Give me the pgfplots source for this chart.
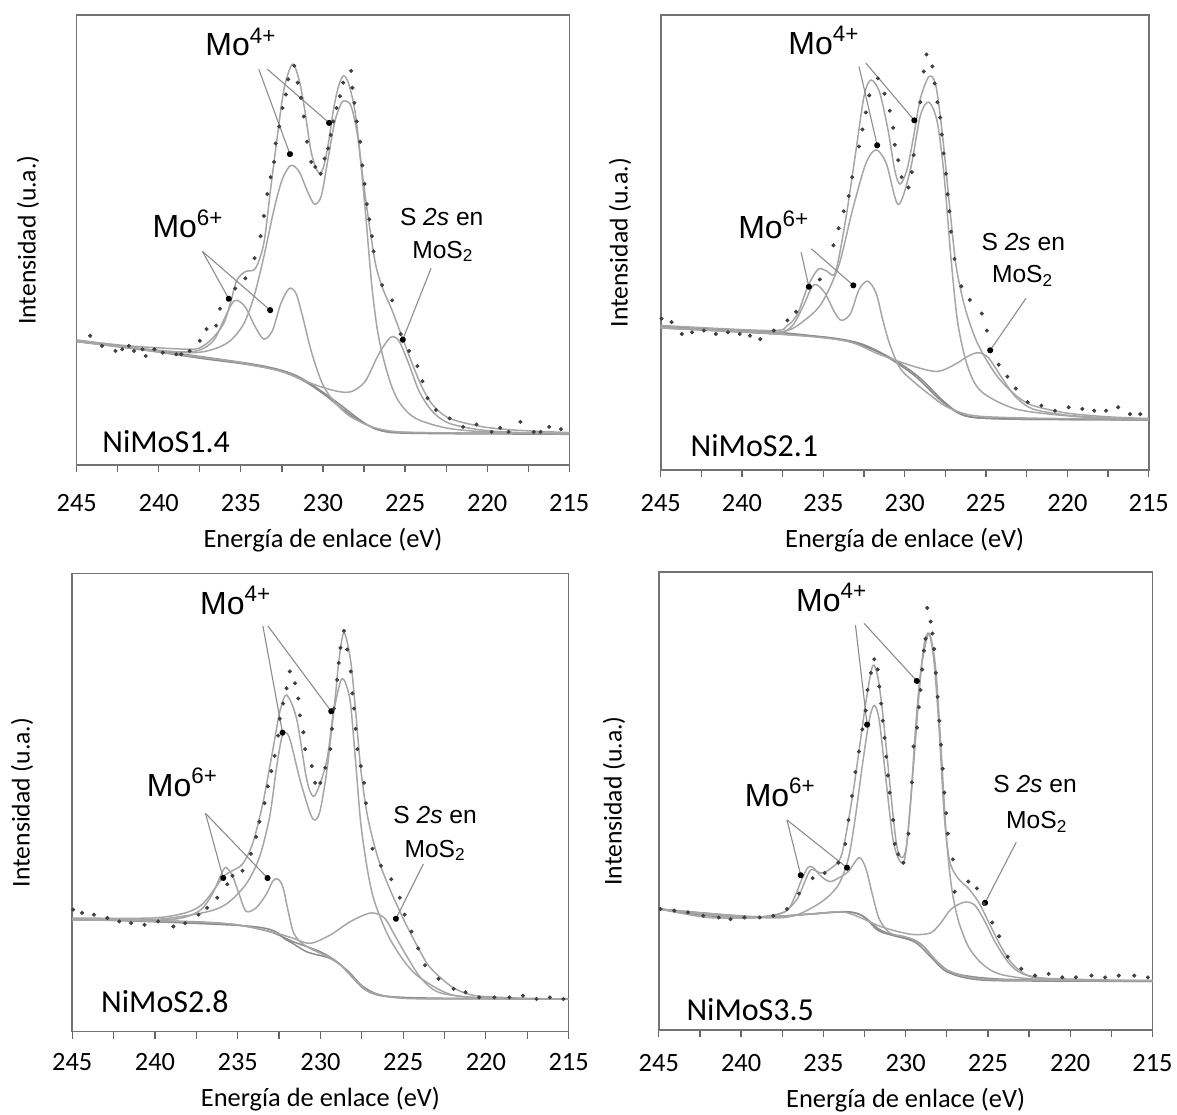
\documentclass[border=0pt]{standalone}
\usepackage{fontspec}
\setmainfont{Carlito}
\newfontfamily\arial{Liberation Sans}
\usepackage{pgfplots}
\pgfplotsset{compat=1.18}
\usetikzlibrary{arrows.meta}

\pgfplotsset{
  xps/.style={
    scale only axis, anchor=south west,
    x dir=reverse, xmin=215, xmax=245, ymin=0,
    xtick={215,220,...,245}, minor x tick num=1,
    ytick=\empty,
    tick align=outside, xtick pos=bottom,
    major tick length=3.5pt, minor tick length=3.5pt,
    every tick/.style={black!60, line width=0.6pt},
    axis line style={black!55, line width=0.8pt},
    /pgf/number format/assume math mode=true,
    xticklabel style={font=\fontsize{13.2}{14}\selectfont, anchor=center},
    xlabel={Energía de enlace (eV)},
    ylabel={Intensidad (u.a.)},
  },
  comp/.style={gray!70, line width=0.75pt, smooth, no markers},
  base/.style={black!45, line width=0.75pt, smooth, no markers},
  dat/.style={only marks, mark=*, mark size=0.8pt, black!75},
}
\tikzset{
  ann/.style={black!45, line width=0.55pt, -{Circle[length=3pt, black]}},
  big/.style={anchor=base, inner sep=0pt, font=\arial\fontsize{16}{16}\selectfont},
  small/.style={anchor=base, inner sep=0pt, font=\arial\fontsize{12.3}{13}\selectfont},
  samp/.style={anchor=base west, inner sep=0pt, font=\fontsize{16}{16}\selectfont},
  xl/.style={font=\fontsize{13.2}{14}\selectfont, anchor=center},
  yl/.style={font=\fontsize{12.8}{14}\selectfont, anchor=center},
}

\begin{document}
\begin{tikzpicture}
\path[use as bounding box] (0,0) rectangle (588.5pt,557pt);

% ---------------- NiMoS1.4 ----------------
\begin{axis}[xps, at={(38.35pt,324.5pt)}, width=246.3pt, height=224.9pt, ymax=133.3,
  xticklabel style={yshift=-15.75pt},
  x label style={xl, at={(axis description cs:0.5,-0.168)}},
  y label style={yl, at={(axis description cs:-0.0989,0.5)}}]
\addplot[base] coordinates {(245,36.6) (241.82,34.8) (237.71,31.8) (234.62,29.8) (232.57,27.8) (231.13,24.8) (229.90,20.8) (228.87,16.8) (227.84,13.3) (226.81,10.8) (225.79,9.6) (223,9.3) (219,9.2) (215,9.1)};
\addplot[base] coordinates {(245,37.0) (237.71,32.3) (233.60,29.3) (231.54,26.3) (229.49,19.8) (227.43,12.3) (226.20,10.0) (223,9.5) (219,9.4) (215,9.3)};
\addplot[comp] coordinates {(245,36.6) (239.76,33.3) (235.65,30.8) (232.57,27.8) (230.51,23.8) (229.08,21.8) (228.25,21.8) (227.43,24.8) (226.61,32.8) (225.89,37.8) (225.38,36.8) (224.76,29.8) (224.14,21.8) (223.32,15.8) (222.29,12.3) (220.24,10.3) (217.5,9.5) (215,9.3)};
\addplot[comp] coordinates {(245,36.6) (239.76,33.8) (237.71,33.8) (236.68,36.8) (236.06,42.8) (235.55,47.8) (235.24,48.8) (234.73,46.8) (234.11,40.8) (233.60,37.3) (233.08,39.8) (232.57,47.8) (232.06,52.3) (231.64,50.8) (231.23,43.8) (230.72,33.8) (230.10,24.8) (229.49,19.8) (228.46,14.8) (227.02,11.3) (225.38,9.8) (222,9.5) (218,9.4) (215,9.3)};
\addplot[comp] coordinates {(245,36.6) (241.82,34.8) (238.12,33.3) (236.68,34.3) (235.65,36.8) (234.83,41.8) (234.21,49.8) (233.60,61.8) (232.98,75.8) (232.47,84.8) (231.95,88.8) (231.44,86.8) (230.92,80.8) (230.51,77.3) (230.10,79.8) (229.69,90.8) (229.28,101.8) (228.87,107.3) (228.56,107.8) (228.25,105.8) (227.84,95.8) (227.43,75.8) (227.02,52.8) (226.61,37.8) (225.99,25.8) (225.38,18.8) (224.35,13.8) (222.29,10.8) (219.21,9.6) (215,9.3)};
\addplot[comp] coordinates {(245,37.0) (241.82,35.3) (238.12,34.3) (237.30,35.3) (236.68,37.8) (236.06,41.8) (235.65,47.8) (235.24,54.8) (234.73,57.3) (234.11,58.3) (233.60,65.8) (233.19,81.8) (232.77,97.8) (232.36,111.8) (231.85,118.8) (231.44,113.8) (231.13,105.8) (230.72,92.8) (230.31,86.8) (230.00,87.8) (229.69,94.8) (229.38,104.8) (229.08,111.8) (228.77,115.3) (228.46,113.3) (228.05,104.8) (227.64,87.8) (227.23,72.8) (226.81,59.8) (226.40,52.8) (225.79,45.8) (225.17,37.8) (224.55,29.8) (223.94,22.8) (223.32,17.8) (222.29,13.8) (220.24,11.3) (218.18,10.3) (215,9.6)};
\addplot[dat] coordinates {(244.18,38.3) (243.46,35.3) (242.64,33.8) (242.23,34.3) (241.82,35.3) (241.51,33.8) (240.99,34.3) (240.79,32.3) (240.27,34.3) (239.76,33.3) (238.94,32.8) (238.63,32.8) (238.12,33.8) (237.50,36.8) (237.09,40.3) (236.51,41.3) (236.27,46.3) (235.34,52.3) (234.73,55.3) (234.17,61.3) (233.80,67.8) (233.60,73.8) (233.39,80.3) (233.19,85.3) (232.98,89.8) (232.88,95.3) (232.67,100.3) (232.47,105.8) (232.26,109.8) (232.12,114.3) (231.75,118.3) (231.54,113.3) (231.34,108.8) (231.17,103.3) (230.97,95.8) (230.72,89.8) (230.47,88.3) (230.14,86.3) (229.90,90.8) (229.69,93.8) (229.53,97.8) (229.38,101.8) (229.18,105.8) (228.97,109.3) (228.77,113.3) (228.29,116.8) (228.21,111.8) (228.09,107.3) (227.95,101.8) (227.74,95.8) (227.60,88.8) (227.47,83.3) (227.33,77.3) (227.18,72.8) (227.02,67.8) (226.92,63.3) (226.40,53.3) (225.79,48.8) (225.27,38.8) (224.76,33.8) (224.25,29.3) (223.94,24.8) (223.63,19.8) (223.12,16.3) (222.29,13.8) (221.47,11.3) (220.65,12.0) (219.73,9.8) (219.21,11.0) (218.70,9.8) (217.98,12.8) (217.16,9.8) (216.75,9.8) (216.23,11.3) (215.51,10.6)};
\draw[ann] (axis cs:233.91,117.3) -- (axis cs:231.95,91.3);
\draw[ann] (axis cs:233.39,117.3) -- (axis cs:229.49,100.8);
\draw[ann] (axis cs:237.34,63.3) -- (axis cs:235.65,48.5);
\draw[ann] (axis cs:237.34,63.3) -- (axis cs:233.08,45.3);
\draw[ann] (axis cs:223.42,58.3) -- (axis cs:225.21,36.3);
\node[big] at (axis cs:235.0,121.3) {Mo\textsuperscript{4+}};
\node[big] at (axis cs:238.22,67.3) {Mo\textsuperscript{6+}};
\node[small] at (axis cs:222.77,71.0) {S \textit{2s} en};
\node[small] at (axis cs:222.70,61.3) {MoS\textsubscript{2}};
\node[samp] at (axis cs:243.46,3.8) {NiMoS1.4};
\end{axis}

% ---------------- NiMoS2.1 ----------------
\begin{axis}[xps, at={(330.35pt,322pt)}, width=244pt, height=227.35pt, ymax=133.4,
  xticklabel style={yshift=-13pt},
  x label style={xl, at={(axis description cs:0.5,-0.154)}},
  y label style={yl, at={(axis description cs:-0.0834,0.5)}}]
\addplot[base] coordinates {(245,41.7) (237.84,39.9) (234.69,38.9) (232.60,36.9) (230.50,31.9) (229.04,26.9) (227.78,20.9) (226.73,16.9) (225.68,15.4) (223,14.9) (219,14.8) (215,14.7)};
\addplot[base] coordinates {(245,42.1) (237.84,40.4) (233.65,37.9) (231.55,34.4) (229.45,27.9) (227.78,20.4) (226.31,15.9) (224,15.0) (220,14.8) (215,14.7)};
\addplot[comp] coordinates {(245,41.7) (237.84,39.9) (233.65,37.9) (231.55,33.9) (229.45,30.4) (227.99,28.9) (226.94,30.9) (226.10,33.4) (225.47,34.4) (224.85,32.9) (224.01,26.9) (223.17,21.4) (222.12,17.9) (220.03,16.1) (217.5,15.3) (215,14.9)};
\addplot[comp] coordinates {(245,41.7) (238.26,40.4) (237.00,41.9) (236.26,47.9) (235.74,53.4) (235.43,54.4) (234.90,51.9) (234.27,45.9) (233.86,43.9) (233.33,45.9) (232.81,52.9) (232.28,55.4) (231.76,51.9) (231.34,43.9) (230.92,36.9) (230.29,29.9) (229.45,25.9) (228.41,21.9) (227.36,18.4) (225.68,15.9) (222,15.2) (218,15.0) (215,14.9)};
\addplot[comp] coordinates {(245,41.9) (238.88,40.4) (237.21,40.9) (236.16,43.9) (235.11,48.9) (234.06,59.9) (233.23,75.9) (232.39,89.9) (231.76,93.9) (231.13,89.9) (230.40,77.9) (229.66,87.9) (229.04,103.9) (228.51,107.9) (227.99,101.9) (227.57,85.9) (227.15,61.9) (226.73,42.9) (226.10,29.9) (225.26,22.9) (223.17,17.9) (220.03,15.9) (217.5,15.2) (215,14.9)};
\addplot[comp] coordinates {(245,42.4) (238.26,40.9) (237.21,42.4) (236.58,45.9) (235.95,53.9) (235.32,58.9) (234.80,58.4) (234.27,57.9) (233.65,72.9) (233.02,92.9) (232.49,109.9) (232.07,114.4) (231.55,110.9) (231.03,99.9) (230.61,87.9) (230.29,83.9) (229.87,87.9) (229.45,97.9) (229.04,108.9) (228.51,115.4) (228.09,112.9) (227.67,97.9) (227.25,77.9) (226.84,59.9) (226.31,47.9) (225.68,38.9) (225.05,32.9) (224.22,26.9) (223.17,21.9) (222.12,18.9) (220.03,16.7) (217.5,15.6) (215,15.1)};
\addplot[dat] coordinates {(244.95,44.4) (244.33,43.4) (243.70,39.9) (243.07,40.4) (242.34,40.9) (241.61,39.9) (240.87,40.4) (240.14,39.9) (239.51,39.4) (238.88,38.4) (238.05,40.9) (237.21,43.9) (236.68,46.4) (235.22,55.9) (234.38,65.9) (234.06,70.9) (233.75,75.9) (233.44,80.4) (233.23,85.9) (232.81,94.9) (232.60,99.9) (232.39,104.9) (232.18,109.9) (231.65,114.9) (231.24,110.4) (230.92,105.4) (230.71,100.4) (230.61,95.4) (230.40,90.9) (230.19,85.9) (229.77,82.9) (229.56,87.4) (229.45,92.4) (229.04,107.9) (228.83,116.9) (228.66,121.9) (228.30,118.4) (228.16,113.4) (227.99,107.9) (227.82,103.4) (227.72,98.4) (227.61,92.9) (227.46,86.9) (227.36,80.9) (227.25,75.9) (227.15,69.9) (226.94,61.9) (226.52,53.9) (226.00,49.9) (225.26,45.9) (224.95,40.9) (224.22,30.9) (223.69,27.4) (223.17,23.9) (222.44,19.9) (221.60,18.9) (220.76,17.4) (219.92,18.4) (219.08,17.9) (218.35,17.4) (217.62,17.4) (216.88,18.4) (216.15,16.4) (215.52,16.4)};
\draw[ann] (axis cs:232.81,118.4) -- (axis cs:231.65,94.4);
\draw[ann] (axis cs:232.39,119.4) -- (axis cs:229.29,101.9);
\draw[ann] (axis cs:236.37,63.9) -- (axis cs:235.85,52.9);
\draw[ann] (axis cs:235.74,64.9) -- (axis cs:233.02,53.6);
\draw[ann] (axis cs:222.54,50.4) -- (axis cs:224.85,34.4);
\node[big] at (axis cs:234.97,121.9) {Mo\textsuperscript{4+}};
\node[big] at (axis cs:238.05,67.9) {Mo\textsuperscript{6+}};
\node[small] at (axis cs:222.71,64.4) {S \textit{2s} en};
\node[small] at (axis cs:222.75,54.9) {MoS\textsubscript{2}};
\node[samp] at (axis cs:243.18,3.9) {NiMoS2.1};
\end{axis}

% ---------------- NiMoS2.8 ----------------
\begin{axis}[xps, at={(36.15pt,41.25pt)}, width=248.15pt, height=229pt, ymax=135.6,
  xticklabel style={yshift=-11.9pt},
  x label style={xl, at={(axis description cs:0.5,-0.148)}},
  y label style={yl, at={(axis description cs:-0.1013,0.5)}}]
\addplot[base] coordinates {(245,33.1) (238.18,32.6) (235.12,31.6) (233.07,29.6) (231.65,26.6) (230.01,23.6) (228.99,20.6) (228.17,16.6) (227.36,12.6) (226.34,10.6) (223.89,9.8) (219,9.7) (215,9.6)};
\addplot[base] coordinates {(245,33.3) (234.10,31.1) (232.05,27.1) (230.83,23.6) (229.40,21.6) (228.38,18.1) (227.36,13.1) (225.93,10.4) (222,9.8) (218,9.7) (215,9.6)};
\addplot[comp] coordinates {(245,33.1) (236.14,32.1) (233.07,29.6) (231.65,27.6) (230.62,26.1) (229.40,28.6) (228.17,32.6) (226.95,35.1) (226.13,33.6) (225.52,28.6) (224.70,21.6) (223.89,15.6) (222.86,11.6) (220.82,10.1) (218,9.7) (215,9.6)};
\addplot[comp] coordinates {(245,33.1) (239.20,33.1) (237.36,35.6) (236.55,40.6) (236.04,46.1) (235.73,48.6) (235.32,46.1) (234.91,40.6) (234.50,35.6) (233.89,36.6) (233.28,40.6) (232.87,44.6) (232.56,45.1) (232.26,42.6) (231.95,35.6) (231.65,29.6) (231.24,26.6) (230.62,24.6) (228.99,20.6) (227.97,15.6) (226.95,11.6) (224.91,9.8) (220,9.7) (215,9.6)};
\addplot[comp] coordinates {(245,33.1) (240.22,33.1) (237.16,35.1) (235.73,37.6) (234.50,43.6) (233.69,51.6) (233.07,63.6) (232.67,77.6) (232.36,86.6) (232.16,88.6) (231.85,86.6) (231.24,74.6) (230.62,64.6) (230.32,62.6) (230.01,65.6) (229.60,77.6) (229.19,94.6) (228.79,103.6) (228.58,104.1) (228.38,101.6) (228.17,96.6) (227.87,79.6) (227.56,61.6) (227.15,47.6) (226.74,38.6) (225.93,28.6) (224.91,20.6) (223.89,15.6) (221.84,10.6) (218,9.8) (215,9.6)};
\addplot[comp] coordinates {(245,33.6) (240.22,33.6) (238.18,35.1) (237.16,37.6) (236.34,42.6) (235.83,46.1) (235.32,47.6) (234.71,49.6) (234.10,55.6) (233.48,67.6) (232.87,83.6) (232.46,94.6) (232.05,99.6) (231.44,92.6) (230.83,74.6) (230.42,69.6) (230.01,73.6) (229.60,80.6) (229.30,91.6) (229.09,99.6) (228.89,109.6) (228.58,118.1) (228.17,109.6) (227.87,94.6) (227.56,77.6) (227.15,63.6) (226.54,51.6) (225.93,43.6) (225.11,34.6) (224.29,26.6) (223.48,19.6) (222.66,15.6) (221.84,12.6) (220.62,10.6) (218,9.9) (215,9.6)};
\addplot[dat] coordinates {(244.95,36.1) (244.41,35.1) (243.69,34.6) (242.88,33.6) (242.16,32.6) (241.45,32.1) (240.63,31.6) (239.81,32.6) (238.89,31.1) (238.18,32.1) (237.36,34.6) (236.85,36.6) (236.24,39.6) (235.63,43.6) (235.32,46.1) (234.71,47.6) (234.20,52.6) (233.89,57.6) (233.69,62.1) (233.38,67.6) (233.18,72.6) (232.97,77.1) (232.77,81.6) (232.56,87.6) (232.46,92.6) (232.26,97.1) (232.05,101.6) (231.85,106.6) (231.54,103.1) (231.34,98.6) (231.24,93.6) (231.03,88.6) (230.93,83.6) (230.52,78.6) (230.32,73.6) (230.01,73.6) (229.71,78.1) (229.40,83.6) (229.30,89.6) (229.19,95.6) (228.99,104.1) (228.89,109.1) (228.79,113.6) (228.58,118.6) (228.38,113.1) (228.17,106.6) (228.07,100.1) (227.97,95.6) (227.87,89.6) (227.77,83.6) (227.56,78.6) (227.36,73.6) (227.25,67.6) (226.85,54.1) (226.34,49.1) (225.72,45.1) (225.21,39.6) (224.91,34.6) (224.50,29.6) (224.09,24.6) (223.68,19.6) (222.86,15.6) (221.95,12.6) (221.23,11.6) (220.41,10.1) (219.49,10.1) (218.58,10.1) (217.76,10.6) (216.94,9.6) (216.13,10.1) (215.31,9.6)};
\draw[ann] (axis cs:233.48,120.1) -- (axis cs:232.26,87.6);
\draw[ann] (axis cs:233.18,120.1) -- (axis cs:229.24,94.1);
\draw[ann] (axis cs:236.95,64.6) -- (axis cs:235.83,44.6);
\draw[ann] (axis cs:236.95,64.6) -- (axis cs:233.07,44.8);
\draw[ann] (axis cs:223.78,49.6) -- (axis cs:225.52,32.6);
\node[big] at (axis cs:235.12,123.6) {Mo\textsuperscript{4+}};
\node[big] at (axis cs:238.34,69.6) {Mo\textsuperscript{6+}};
\node[small] at (axis cs:223.07,61.6) {S \textit{2s} en};
\node[small] at (axis cs:223.07,51.6) {MoS\textsubscript{2}};
\node[samp] at (axis cs:243.28,5.6) {NiMoS2.8};
\end{axis}

% ---------------- NiMoS3.5 ----------------
\begin{axis}[xps, at={(329.4pt,42pt)}, width=246.85pt, height=229pt, ymax=133.9,
  xticklabel style={yshift=-13.25pt},
  x label style={xl, at={(axis description cs:0.5,-0.154)}},
  y label style={yl, at={(axis description cs:-0.0907,0.5)}}]
\addplot[base] coordinates {(245,35.4) (241.99,33.4) (238.87,32.9) (235.75,33.9) (233.67,34.6) (232.63,33.4) (231.60,29.4) (230.56,27.4) (229.52,26.4) (228.89,24.4) (228.27,20.9) (227.44,17.4) (226.40,15.9) (224.32,14.9) (220,14.4) (215,14.2)};
\addplot[base] coordinates {(245,35.4) (238.87,33.1) (233.26,34.4) (231.60,28.9) (229.52,25.9) (228.48,21.4) (227.44,16.9) (225.36,14.6) (220,14.3) (215,14.2)};
\addplot[comp] coordinates {(245,35.4) (239.91,32.9) (235.75,33.9) (233.67,34.4) (231.60,30.4) (230.56,28.9) (229.52,27.9) (228.48,28.4) (227.85,31.4) (227.23,35.4) (226.40,37.4) (225.78,36.4) (225.15,31.4) (224.53,25.4) (223.70,19.4) (222.87,16.4) (221.20,14.9) (218,14.5) (215,14.4)};
\addplot[comp] coordinates {(245,35.4) (239.91,32.9) (237.41,34.4) (236.79,38.4) (236.37,43.4) (235.96,47.4) (235.65,47.6) (235.13,44.9) (234.61,43.4) (234.09,44.4) (233.47,46.4) (232.84,50.4) (232.43,47.4) (232.01,39.4) (231.60,32.4) (230.97,28.4) (230.14,27.4) (229.52,26.4) (228.89,24.4) (228.27,20.9) (227.44,17.4) (225.36,14.9) (220,14.5) (215,14.4)};
\addplot[comp] coordinates {(245,35.4) (238.87,32.9) (236.79,33.4) (235.13,37.4) (234.09,42.4) (233.47,50.4) (233.05,62.4) (232.63,77.4) (232.22,90.4) (231.91,94.9) (231.60,90.4) (231.18,72.4) (230.76,55.4) (230.35,49.4) (230.04,50.4) (229.72,65.4) (229.41,87.4) (229.10,104.4) (228.69,114.9) (228.48,114.9) (228.17,105.4) (227.85,82.4) (227.54,57.4) (227.23,42.4) (226.82,32.4) (226.19,24.4) (225.36,19.4) (224.32,16.4) (222.24,14.9) (218,14.5) (215,14.4)};
\addplot[comp] coordinates {(245,35.4) (241.99,32.9) (238.87,32.9) (237.41,34.4) (236.58,38.4) (236.17,42.9) (235.75,46.9) (235.13,45.9) (234.50,47.4) (233.88,51.4) (233.26,67.4) (232.84,81.4) (232.43,95.4) (232.01,106.4) (231.70,103.4) (231.39,92.4) (230.97,72.4) (230.56,54.4) (230.24,50.4) (229.93,54.4) (229.52,77.4) (229.20,97.4) (228.89,112.4) (228.58,115.9) (228.27,107.4) (227.96,87.4) (227.65,62.4) (227.33,49.4) (226.82,44.4) (226.19,41.4) (225.57,37.4) (224.94,31.4) (224.32,25.4) (223.70,20.4) (223.07,17.4) (222.24,15.4) (220.16,14.9) (217.5,14.6) (215,14.4)};
\addplot[dat] coordinates {(244.90,35.4) (244.06,34.9) (243.23,34.4) (242.30,33.4) (241.36,32.9) (240.64,32.4) (239.80,32.9) (238.87,32.9) (238.04,33.4) (237.21,35.4) (236.48,39.9) (235.65,44.4) (234.92,45.9) (234.09,48.9) (233.67,54.4) (233.47,61.4) (233.26,68.4) (233.05,75.4) (232.84,81.4) (232.63,87.9) (232.43,93.4) (232.32,99.4) (232.11,104.4) (231.91,108.4) (231.70,105.4) (231.60,100.4) (231.49,95.4) (231.39,90.4) (231.28,85.4) (231.18,79.9) (231.08,74.4) (230.97,69.4) (230.76,61.4) (230.66,54.4) (230.45,51.4) (230.14,48.9) (229.83,57.4) (229.62,72.4) (229.52,82.9) (229.31,88.4) (229.20,94.4) (229.10,99.4) (229.00,105.4) (228.89,110.9) (228.79,114.4) (228.69,123.4) (228.48,119.4) (228.37,115.9) (228.27,111.4) (228.17,104.4) (228.06,97.4) (227.96,90.4) (227.85,83.4) (227.75,76.4) (227.65,69.4) (227.54,63.4) (227.44,57.4) (227.13,49.9) (227.02,40.4) (226.19,43.4) (225.67,41.4) (225.26,36.9) (224.74,31.4) (224.32,27.4) (223.80,21.4) (222.97,17.9) (222.14,15.9) (221.31,16.4) (220.48,15.4) (219.65,15.4) (218.71,15.9) (217.88,15.4) (217.05,15.9) (216.11,15.9) (215.28,15.4)};
\draw[ann] (axis cs:233.05,118.4) -- (axis cs:232.32,88.4);
\draw[ann] (axis cs:232.53,118.9) -- (axis cs:229.20,101.4);
\draw[ann] (axis cs:237.21,61.4) -- (axis cs:236.33,44.4);
\draw[ann] (axis cs:237.21,61.4) -- (axis cs:233.42,46.9);
\draw[ann] (axis cs:223.28,54.9) -- (axis cs:225.26,36.4);
\node[big] at (axis cs:234.50,122.4) {Mo\textsuperscript{4+}};
\node[big] at (axis cs:237.62,65.4) {Mo\textsuperscript{6+}};
\node[small] at (axis cs:222.14,69.4) {S \textit{2s} en};
\node[small] at (axis cs:222.03,58.9) {MoS\textsubscript{2}};
\node[samp] at (axis cs:243.34,2.9) {NiMoS3.5};
\end{axis}
\end{tikzpicture}
\end{document}
